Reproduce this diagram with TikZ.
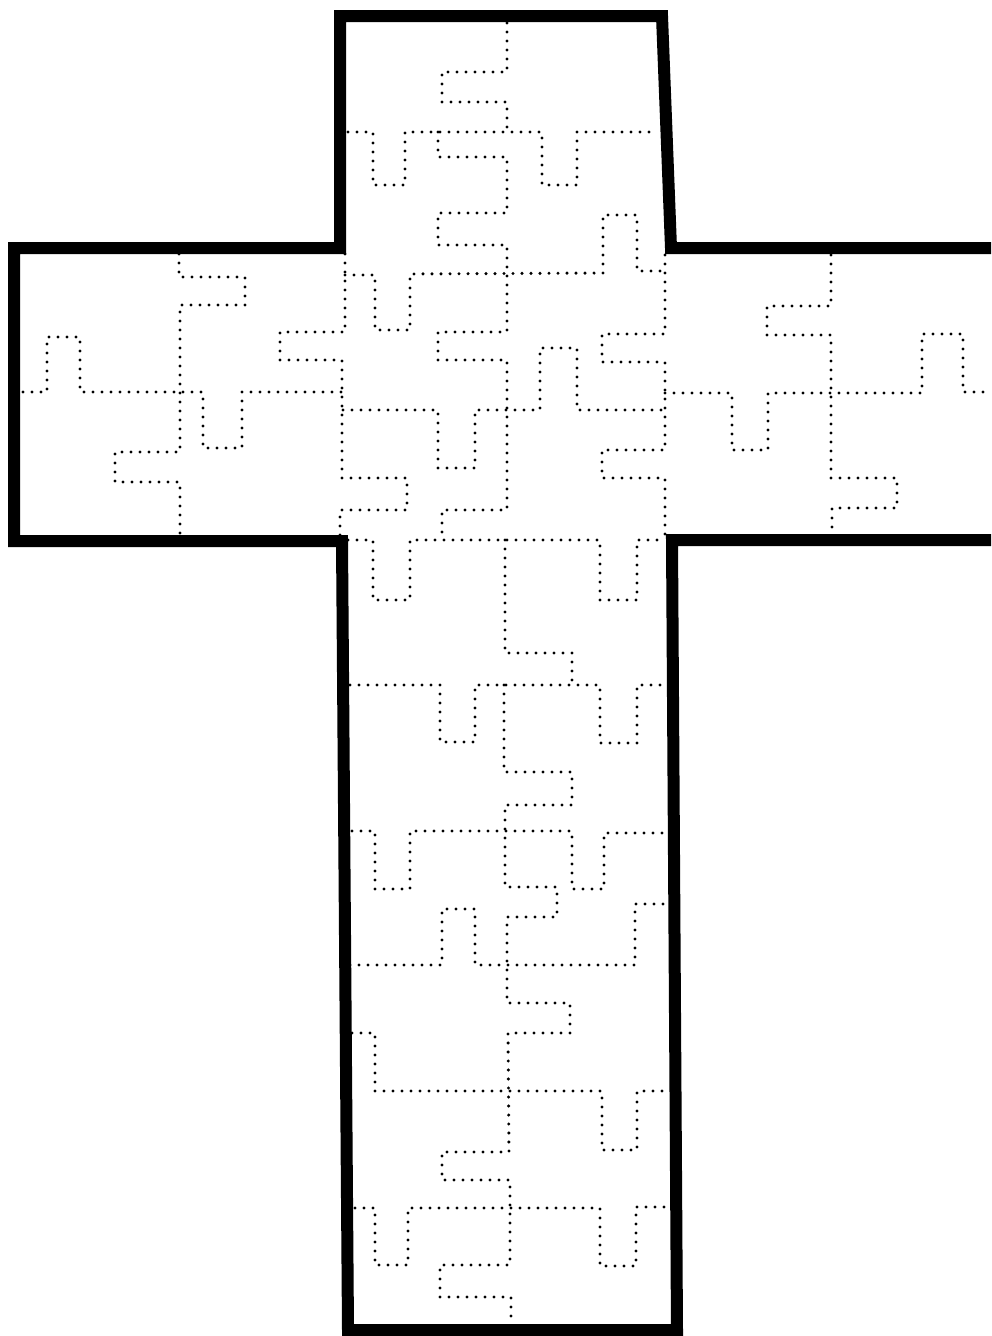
\documentclass[tikz,border=0pt]{standalone}
\begin{document}
\begin{tikzpicture}[x=1pt,y=-1pt,
  outline/.style={line width=12pt,line join=miter,draw=black},
  dotline/.style={line width=3.4pt,line cap=round,dash pattern=on 0pt off 9pt,draw=black}]
\fill[white] (0,0) rectangle (991,1336);
\clip (0,0) rectangle (991,1336);
% cross outline
\draw[outline] (340,248) -- (340,16) -- (662,16) -- (671,248) -- (1005,248)
  (1005,540) -- (672,540) -- (677,1330) -- (348,1330) -- (342,541) -- (14,541) -- (14,248) -- (340,248) -- (340,240);
% top stem
\draw[dotline] (507,23) -- (507,72) -- (442,72) -- (442,102) -- (507,102) -- (507,132);
\draw[dotline] (348,132) -- (373,132) -- (373,185) -- (405,185) -- (405,132) -- (542,132) -- (542,185) -- (577,185) -- (577,132) -- (656,132);
\draw[dotline] (438,132) -- (438,157) -- (507,157) -- (507,213) -- (438,213) -- (438,245) -- (507,245) -- (507,332) -- (438,332) -- (438,360) -- (507,360) -- (507,510) -- (442,510) -- (442,540);
\draw[dotline] (345,275) -- (375,275) -- (375,330) -- (410,330) -- (410,274) -- (603,273) -- (603,215) -- (637,215) -- (637,271) -- (665,271);
\draw[dotline] (345,254) -- (345,332) -- (280,332) -- (280,360) -- (342,360) -- (342,478) -- (407,478) -- (407,510) -- (340,510) -- (340,540);
% left arm
\draw[dotline] (179,254) -- (179,277) -- (245,277) -- (245,305) -- (180,305) -- (180,452) -- (115,452) -- (115,482) -- (180,482) -- (180,535);
\draw[dotline] (23,392) -- (47,392) -- (47,337) -- (80,337) -- (80,392) -- (203,392) -- (203,448) -- (242,448) -- (242,392) -- (342,392);
% centre
\draw[dotline] (343,410) -- (438,410) -- (438,468) -- (475,468) -- (475,410) -- (540,410) -- (540,348) -- (577,348) -- (577,410) -- (665,410);
\draw[dotline] (665,255) -- (665,334) -- (602,334) -- (602,362) -- (665,362) -- (665,450) -- (602,450) -- (602,478) -- (665,478) -- (665,535);
% right arm
\draw[dotline] (665,393) -- (732,393) -- (732,450) -- (768,450) -- (768,393) -- (922,393) -- (922,334) -- (963,334) -- (963,392) -- (991,392);
\draw[dotline] (831,255) -- (831,306) -- (767,306) -- (767,335) -- (831,335) -- (831,478) -- (897,478) -- (897,508) -- (832,508) -- (832,533);
% bottom stem
\draw[dotline] (348,540) -- (373,540) -- (373,600) -- (410,600) -- (410,540) -- (600,540) -- (600,600) -- (637,600) -- (637,540) -- (663,540);
\draw[dotline] (505,540) -- (505,653) -- (572,653) -- (572,685);
\draw[dotline] (350,685) -- (440,685) -- (440,742) -- (475,742) -- (475,685) -- (600,685) -- (600,743) -- (637,743) -- (637,685) -- (663,685);
\draw[dotline] (504,685) -- (504,772) -- (572,772) -- (572,805) -- (505,805) -- (505,887) -- (557,887) -- (557,917) -- (507,917) -- (507,1003) -- (570,1003) -- (570,1033) -- (508,1033) -- (509,1152) -- (442,1152) -- (442,1180) -- (510,1180) -- (510,1265) -- (440,1265) -- (440,1297) -- (511,1297) -- (511,1324);
\draw[dotline] (352,831) -- (375,831) -- (375,889) -- (410,889) -- (410,831) -- (572,831) -- (572,889) -- (604,889) -- (604,833) -- (665,833);
\draw[dotline] (350,965) -- (442,965) -- (442,909) -- (475,909) -- (475,965) -- (635,965) -- (635,904) -- (665,904);
\draw[dotline] (352,1033) -- (375,1033) -- (375,1091) -- (602,1091) -- (602,1150) -- (637,1150) -- (637,1091) -- (667,1091);
\draw[dotline] (355,1208) -- (375,1208) -- (375,1265) -- (408,1265) -- (408,1208) -- (600,1208) -- (600,1266) -- (636,1266) -- (636,1207) -- (668,1207);
\end{tikzpicture}
\end{document}
